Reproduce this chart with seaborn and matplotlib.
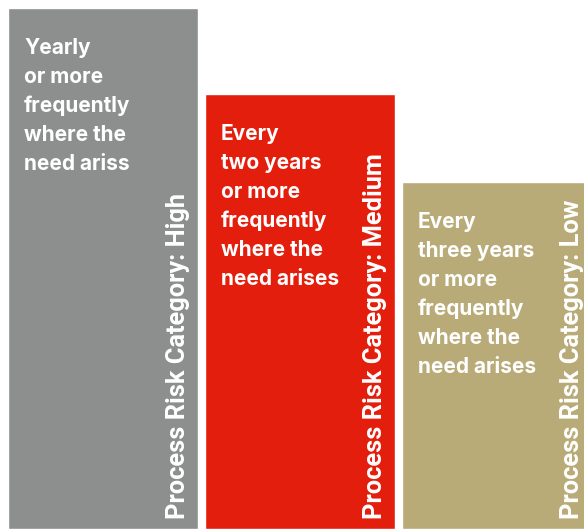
import matplotlib
matplotlib.use('Agg')
import matplotlib.pyplot as plt
import matplotlib.transforms as mtransforms
import seaborn as sns
import pandas as pd

sns.set_style('white')
plt.rcParams['font.family'] = ['Roboto', 'DejaVu Sans']

# Review frequency by process risk category
categories = ['High', 'Medium', 'Low']
bar_heights = [521, 435, 347]
descriptions = [
    'Yearly\nor more\nfrequently\nwhere the\nneed ariss',
    'Every\ntwo years\nor more\nfrequently\nwhere the\nneed arises',
    'Every\nthree years\nor more\nfrequently\nwhere the\nneed arises',
]
colors = ['#8c8f8e', '#e41e0c', '#b9ab78']

df = pd.DataFrame({'Category': categories, 'Height': bar_heights})

fig = plt.figure(figsize=(5.84, 5.29), dpi=100)
ax = fig.add_axes([0, 0, 1, 1])

bar_w = 190 / 197
sns.barplot(data=df, x='Category', y='Height', hue='Category', palette=colors,
            width=bar_w, saturation=1, legend=False, ax=ax)

ax.set_xlim(-0.5228, 2.4417)
ax.set_ylim(0, 529)
ax.axis('off')

for i, (cat, h, desc) in enumerate(zip(categories, bar_heights, descriptions)):
    left = i - bar_w / 2
    right = i + bar_w / 2
    t_desc = mtransforms.offset_copy(ax.transData, fig=fig, x=16, y=-30, units='dots')
    ax.text(left, h, desc, transform=t_desc, ha='left', va='top',
            color='white', fontsize=15, fontweight='bold', linespacing=1.55,
            family=['Inter', 'DejaVu Sans'])
    t_lab = mtransforms.offset_copy(ax.transData, fig=fig, x=-8, y=10, units='dots')
    ax.text(right, 0, f'Process Risk Category: {cat}', transform=t_lab,
            rotation=90, ha='right', va='bottom', color='white',
            fontsize=18.3, fontweight='bold')

fig.savefig('out.png', dpi=100)
